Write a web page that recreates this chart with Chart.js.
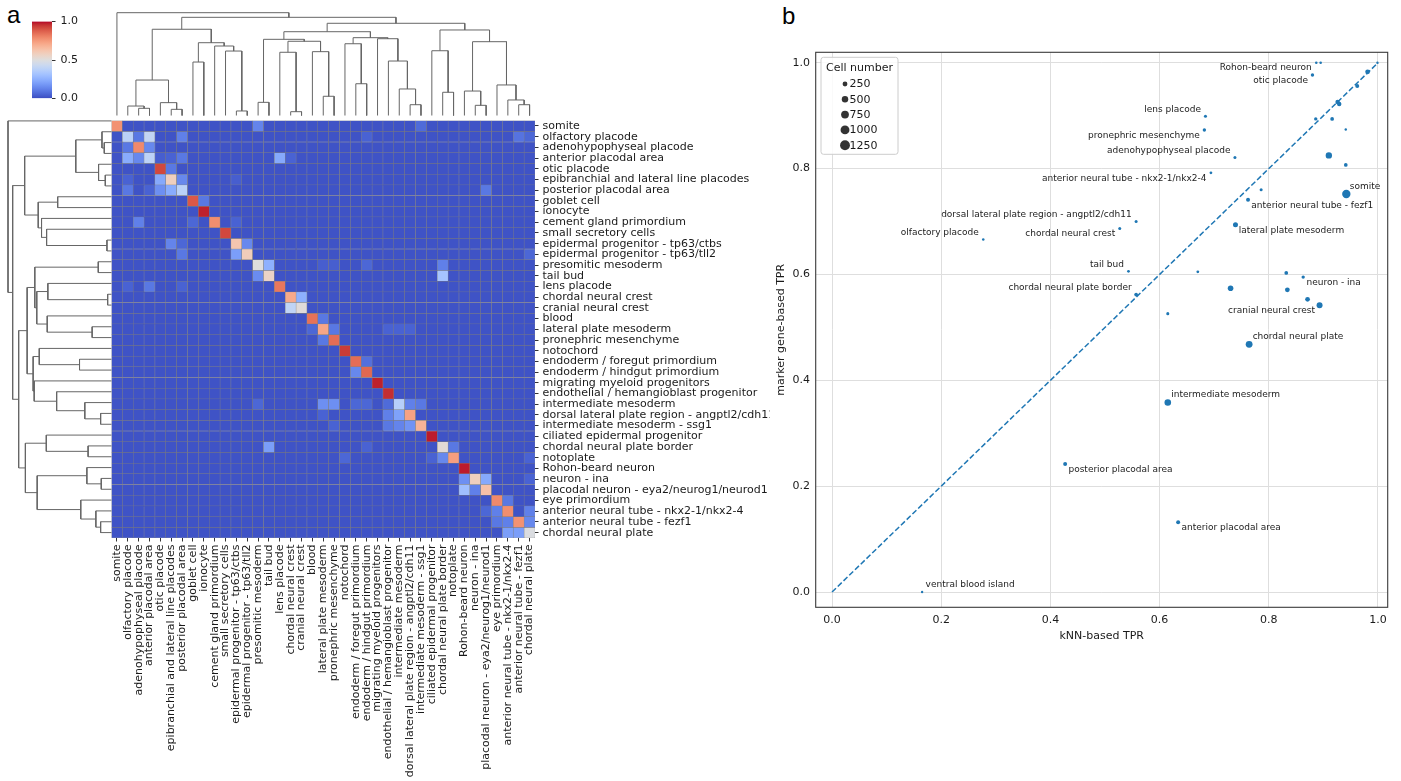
<!DOCTYPE html>
<html>
<head>
<meta charset="utf-8">
<script src="https://cdn.jsdelivr.net/npm/chart.js@4.4.0/dist/chart.umd.min.js"></script>
<style>
  body { margin: 0; background: #fff; width: 1401px; height: 781px; overflow: hidden; position: relative; }
  canvas { position: absolute; }
  .panel { position: absolute; font-family: "Liberation Sans", sans-serif; font-size: 24px; line-height: 24px; color: #000; }
</style>
</head>
<body>
<div class="panel" style="left:7px;top:3px">a</div>
<div class="panel" style="left:782px;top:4px">b</div>
<canvas id="colDendro" width="450" height="118" style="left:100px;top:0"></canvas>
<canvas id="rowDendro" width="120" height="440" style="left:0;top:105px"></canvas>
<canvas id="cbar" width="70" height="100" style="left:20px;top:10px"></canvas>
<canvas id="heat" width="670" height="671" style="left:100px;top:110px"></canvas>
<canvas id="scatter" width="631" height="620" style="left:770px;top:40px"></canvas>
<script>
// Panel a: clustered TPR heatmap between cell types. Panel b: kNN vs marker gene TPR.

// Cell types, same order on rows and columns (top to bottom, left to right).
const cellTypes = [
  "somite", "olfactory placode", "adenohypophyseal placode", "anterior placodal area",
  "otic placode", "epibranchial and lateral line placodes", "posterior placodal area",
  "goblet cell", "ionocyte", "cement gland primordium", "small secretory cells",
  "epidermal progenitor - tp63/ctbs", "epidermal progenitor - tp63/tll2",
  "presomitic mesoderm", "tail bud", "lens placode", "chordal neural crest",
  "cranial neural crest", "blood", "lateral plate mesoderm", "pronephric mesenchyme",
  "notochord", "endoderm / foregut primordium", "endoderm / hindgut primordium",
  "migrating myeloid progenitors", "endothelial / hemangioblast progenitor",
  "intermediate mesoderm", "dorsal lateral plate region - angptl2/cdh11",
  "intermediate mesoderm - ssg1", "ciliated epidermal progenitor",
  "chordal neural plate border", "notoplate", "Rohon-beard neuron", "neuron - ina",
  "placodal neuron - eya2/neurog1/neurod1", "eye primordium",
  "anterior neural tube - nkx2-1/nkx2-4", "anterior neural tube - fezf1", "chordal neural plate",
];

// Heatmap: most cells sit near zero; these are the visible ones [row, col, value].
const heatBase = 0.015;
const heatCells = [
  [0,0,0.77],[0,13,0.13],[0,28,0.07],
  [1,1,0.38],[1,2,0.1],[1,3,0.41],[1,6,0.12],[1,23,0.05],[1,37,0.09],[1,38,0.06],
  [2,1,0.1],[2,2,0.79],[2,3,0.14],
  [3,1,0.24],[3,2,0.14],[3,3,0.39],[3,4,0.04],[3,5,0.05],[3,6,0.1],[3,15,0.23],[3,16,0.05],
  [4,4,0.92],[4,5,0.1],
  [5,1,0.05],[5,4,0.23],[5,5,0.58],[5,6,0.14],[5,11,0.04],
  [6,1,0.1],[6,3,0.05],[6,4,0.16],[6,5,0.24],[6,6,0.38],[6,34,0.1],
  [7,7,0.89],[7,8,0.1],
  [8,8,0.975],
  [9,2,0.12],[9,7,0.06],[9,9,0.78],[9,11,0.05],
  [10,10,0.92],
  [11,5,0.13],[11,6,0.06],[11,11,0.62],[11,12,0.14],
  [12,6,0.1],[12,11,0.2],[12,12,0.59],[12,38,0.06],
  [13,13,0.5],[13,14,0.25],[13,19,0.04],[13,20,0.04],[13,23,0.06],[13,30,0.12],
  [14,13,0.15],[14,14,0.56],[14,30,0.32],
  [15,1,0.05],[15,3,0.1],[15,6,0.05],[15,15,0.83],
  [16,16,0.71],[16,17,0.25],
  [17,16,0.4],[17,17,0.51],
  [18,18,0.84],[18,19,0.1],
  [19,18,0.06],[19,19,0.72],[19,20,0.1],[19,25,0.05],[19,26,0.05],[19,27,0.05],
  [20,19,0.1],[20,20,0.85],
  [21,21,0.94],
  [22,22,0.85],[22,23,0.08],
  [23,22,0.14],[23,23,0.86],
  [24,24,0.975],
  [25,25,0.96],
  [26,13,0.06],[26,19,0.16],[26,20,0.16],[26,22,0.06],[26,23,0.06],[26,25,0.07],[26,26,0.37],[26,27,0.12],[26,28,0.1],
  [27,19,0.05],[27,25,0.12],[27,26,0.21],[27,27,0.73],
  [28,20,0.05],[28,25,0.1],[28,26,0.13],[28,27,0.17],[28,28,0.68],
  [29,29,0.98],
  [30,14,0.2],[30,23,0.05],[30,30,0.52],[30,31,0.1],
  [31,21,0.06],[31,29,0.05],[31,30,0.14],[31,31,0.74],[31,38,0.05],
  [32,32,0.98],
  [33,32,0.16],[33,33,0.58],[33,34,0.23],[33,38,0.05],
  [34,32,0.3],[34,33,0.12],[34,34,0.64],
  [35,35,0.79],[35,36,0.1],
  [36,34,0.06],[36,35,0.12],[36,36,0.78],[36,38,0.12],
  [37,35,0.1],[37,36,0.12],[37,37,0.77],[37,38,0.14],
  [38,36,0.2],[38,37,0.2],[38,38,0.49],
];

// Dendrograms as nested [height, left, right]; leaves are indices into cellTypes.
const colTree = [1.0, 0, [0.955,
  [0.839,
    [0.345, [0.092, 1, [0.07, 2, 3]], [0.125, 4, [0.06, 5, 6]]],
    [0.708, [0.52, 7, 8], [0.676, 9, [0.627, 10, [0.044, 11, 12]]]]],
  [0.897,
    [0.815,
      [0.741, [0.128, 13, 14], [0.722, [0.615, 15, [0.037, 16, 17]], [0.621, 18, [0.187, 19, 20]]]],
      [0.757, [0.698, 21, [0.309, 22, 23]], [0.747, 24, [0.53, 25, [0.258, 26, [0.105, 27, 28]]]]]],
    [0.832,
      [0.63, 29, [0.226, 30, 31]],
      [0.718, [0.238, 32, [0.099, 33, 34]], [0.297, 35, [0.151, 36, [0.105, 37, 38]]]]]]]];
const rowTree = colTree;

const colorbarTicks = [0, 0.5, 1];

// Panel b: one point per cell type.
const pointNames = [
  "Rohon-beard neuron", "", "otic placode", "", "", "", "", "", "", "", "", "", "",
  "lens placode", "pronephric mesenchyme", "adenohypophyseal placode",
  "anterior neural tube - nkx2-1/nkx2-4", "", "somite", "anterior neural tube - fezf1",
  "dorsal lateral plate region - angptl2/cdh11", "chordal neural crest", "lateral plate mesoderm",
  "olfactory placode", "tail bud",
  "", "", "neuron - ina", "", "", "", "cranial neural crest",
  "chordal neural plate border", "", "chordal neural plate", "intermediate mesoderm",
  "posterior placodal area", "anterior placodal area", "ventral blood island",
];
const knnTpr = [
  0.887, 0.895, 0.880, 0.999, 0.981, 0.962, 0.926, 0.929, 0.886, 0.916, 0.941, 0.910, 0.941,
  0.684, 0.682, 0.738, 0.694, 0.786, 0.942, 0.762, 0.557, 0.527, 0.739, 0.277, 0.543,
  0.670, 0.832, 0.863, 0.730, 0.834, 0.871, 0.893, 0.557, 0.615, 0.764, 0.615, 0.427, 0.634, 0.165,
];
const markerTpr = [
  1.0, 1.0, 0.977, 1.0, 0.983, 0.956, 0.926, 0.922, 0.894, 0.894, 0.874, 0.825, 0.807,
  0.899, 0.873, 0.821, 0.792, 0.760, 0.752, 0.741, 0.700, 0.687, 0.694, 0.666, 0.606,
  0.605, 0.603, 0.595, 0.574, 0.571, 0.553, 0.542, 0.562, 0.526, 0.468, 0.358, 0.242, 0.132, 0.0,
];
const cellCounts = [
  25, 25, 90, 10, 240, 150, 200, 200, 90, 120, 15, 480, 120,
  60, 90, 60, 40, 60, 880, 150, 60, 60, 275, 20, 40,
  40, 120, 90, 360, 240, 240, 420, 120, 60, 560, 520, 150, 150, 10,
];
const legendCounts = [250, 500, 750, 1000, 1250];
const axisTicks = [0, 0.2, 0.4, 0.6, 0.8, 1.0];

// Where each label sits relative to its point (layout only).
const labelSpots = {
  "Rohon-beard neuron": "bl", "otic placode": "bl", "lens placode": "al",
  "pronephric mesenchyme": "bl", "adenohypophyseal placode": "al",
  "anterior neural tube - nkx2-1/nkx2-4": "bl", "somite": "ar",
  "anterior neural tube - fezf1": "br", "dorsal lateral plate region - angptl2/cdh11": "al",
  "chordal neural crest": "bl", "lateral plate mesoderm": "br", "olfactory placode": "al",
  "tail bud": "al", "neuron - ina": "br", "cranial neural crest": "bl",
  "chordal neural plate border": "al", "chordal neural plate": "ar",
  "intermediate mesoderm": "ar", "posterior placodal area": "br",
  "anterior placodal area": "br", "ventral blood island": "ar",
};
const SPOT = {
  bl: { align: "right", dx: -4.5, dy: 5.3 },
  al: { align: "right", dx: -4.5, dy: -7 },
  br: { align: "left", dx: 3.3, dy: 5.5 },
  ar: { align: "left", dx: 3.5, dy: -7.5 },
};

// matplotlib coolwarm, 33 steps.
const COOLWARM = [
  [59,76,192],[68,90,204],[77,104,215],[87,117,225],[98,130,234],[108,142,241],[119,154,247],
  [130,165,251],[141,176,254],[152,185,255],[163,194,255],[174,201,253],[184,208,249],
  [194,213,244],[204,217,238],[213,219,230],[221,221,221],[229,216,209],[236,211,197],
  [241,204,185],[245,196,173],[247,187,160],[247,177,148],[247,166,135],[244,154,123],
  [241,141,111],[236,127,99],[229,112,88],[222,96,77],[213,80,66],[203,62,56],[192,40,47],[180,4,38],
];
function coolwarm(v) {
  const t = Math.min(1, Math.max(0, v)) * 32;
  const i = Math.min(31, Math.floor(t));
  const f = t - i;
  const a = COOLWARM[i], b = COOLWARM[i + 1];
  const c = a.map((x, k) => Math.round(x + (b[k] - x) * f));
  return `rgb(${c[0]},${c[1]},${c[2]})`;
}

const FONT = "DejaVu Sans";
const TEXT = "#1a1a1a";
const BLUE = "#1f77b4";
const DENDRO = "#666666";

// ---------- heatmap ----------
const heatLookup = {};
heatCells.forEach(([r, c, v]) => { heatLookup[r + "," + c] = v; });
const heatValue = (r, c) => heatLookup[r + "," + c] ?? heatBase;

new Chart(document.getElementById("heat"), {
  type: "bar",
  data: {
    labels: cellTypes,
    datasets: cellTypes.map((name, r) => ({
      label: name,
      data: cellTypes.map(() => 1),
      backgroundColor: cellTypes.map((_, c) => coolwarm(heatValue(r, c))),
      borderColor: "rgba(120,120,120,0.9)",
      borderWidth: 0.5,
      borderSkipped: false,
      barPercentage: 1,
      categoryPercentage: 1,
    })),
  },
  options: {
    responsive: false,
    animation: false,
    layout: { padding: { left: 11.5, top: 5.5 } },
    plugins: { legend: { display: false }, tooltip: { enabled: false } },
    scales: {
      x: {
        stacked: true,
        ticks: { autoSkip: false, maxRotation: 90, minRotation: 90, padding: 3, color: TEXT, font: { family: FONT, size: 11 } },
        grid: { drawOnChartArea: false, offset: false, tickLength: 3.5, color: "#333" },
        border: { display: false },
        afterFit: (s) => { s.height = 243; },
      },
      y: { stacked: true, display: false, min: 0, max: 39, reverse: true },
      rows: {
        type: "category",
        labels: cellTypes,
        position: "right",
        offset: true,
        ticks: { autoSkip: false, padding: 4, color: TEXT, font: { family: FONT, size: 11 } },
        grid: { drawOnChartArea: false, offset: false, tickLength: 3.5, color: "#333" },
        border: { display: false },
        afterFit: (s) => { s.width = 235; },
      },
    },
  },
});

// ---------- dendrograms ----------
function treeLinks(node, links) {
  if (typeof node === "number") return { pos: node + 0.5, h: 0 };
  const [h, a, b] = node;
  const L = treeLinks(a, links);
  const R = treeLinks(b, links);
  links.push([L.pos, L.h, R.pos, R.h, h]);
  return { pos: (L.pos + R.pos) / 2, h };
}

function dendroChart(id, tree, vertical, padding) {
  const links = [];
  treeLinks(tree, links);
  const datasets = links.map(([xl, hl, xr, hr, h]) => {
    const pts = [[xl, hl], [xl, h], [xr, h], [xr, hr]];
    return {
      data: pts.map(([p, q]) => (vertical ? { x: p, y: q } : { x: q, y: p })),
      showLine: true,
      borderColor: DENDRO,
      borderWidth: 1,
      pointRadius: 0,
      clip: false,
    };
  });
  const leafAxis = { type: "linear", display: false, min: 0, max: cellTypes.length };
  const hAxis = { type: "linear", display: false, min: 0, max: 1 };
  new Chart(document.getElementById(id), {
    type: "scatter",
    data: { datasets },
    options: {
      responsive: false,
      animation: false,
      layout: { padding },
      plugins: { legend: { display: false }, tooltip: { enabled: false } },
      scales: vertical
        ? { x: leafAxis, y: hAxis }
        : { x: { ...hAxis, reverse: true }, y: { ...leafAxis, reverse: true } },
    },
  });
}

dendroChart("colDendro", colTree, true, { left: 11.5, top: 12.7, right: 15, bottom: 2.5 });
dendroChart("rowDendro", rowTree, false, { left: 8, top: 10.5, right: 8.5, bottom: 7 });

// ---------- colour bar ----------
new Chart(document.getElementById("cbar"), {
  type: "bar",
  data: {
    labels: [""],
    datasets: [{
      data: [[0, 1]],
      barPercentage: 1,
      categoryPercentage: 1,
      borderWidth: 0,
      backgroundColor: (ctx) => {
        const area = ctx.chart.chartArea;
        if (!area) return COOLWARM[0];
        const g = ctx.chart.ctx.createLinearGradient(0, area.bottom, 0, area.top);
        COOLWARM.forEach((c, i) => g.addColorStop(i / 32, `rgb(${c[0]},${c[1]},${c[2]})`));
        return g;
      },
    }],
  },
  options: {
    responsive: false,
    animation: false,
    layout: { padding: { left: 12, top: 9.3, bottom: 11 } },
    plugins: { legend: { display: false }, tooltip: { enabled: false } },
    scales: {
      x: { display: false },
      y: {
        position: "right",
        min: 0,
        max: 1,
        afterBuildTicks: (s) => { s.ticks = colorbarTicks.map((v) => ({ value: v })); },
        ticks: { callback: (v) => v.toFixed(1), padding: 5, color: TEXT, font: { family: FONT, size: 11 } },
        grid: { drawOnChartArea: false, tickLength: 3.5, color: "#333" },
        border: { display: false },
        afterFit: (s) => { s.width = 38; },
      },
    },
  },
});

// ---------- scatter ----------
const sizeOf = (n) => Math.sqrt(1.2 + 0.0185 * n);

const framePlugin = {
  id: "frame",
  afterDatasetsDraw(chart) {
    const { ctx, chartArea: a } = chart;
    ctx.save();
    ctx.strokeStyle = "#3a3a3a";
    ctx.lineWidth = 1.1;
    ctx.strokeRect(a.left, a.top, a.right - a.left, a.bottom - a.top);
    ctx.restore();
  },
};

const pointLabelPlugin = {
  id: "pointLabels",
  afterDatasetsDraw(chart) {
    const { ctx, scales } = chart;
    ctx.save();
    ctx.font = `9px "${FONT}"`;
    ctx.fillStyle = "#222";
    ctx.textBaseline = "middle";
    pointNames.forEach((name, i) => {
      if (!name) return;
      const spot = SPOT[labelSpots[name]];
      const px = scales.x.getPixelForValue(knnTpr[i]);
      const py = scales.y.getPixelForValue(markerTpr[i]);
      ctx.textAlign = spot.align;
      ctx.fillText(name, px + spot.dx, py + spot.dy);
    });
    ctx.restore();
  },
};

const sizeLegendPlugin = {
  id: "sizeLegend",
  afterDatasetsDraw(chart) {
    const { ctx, chartArea: a } = chart;
    const x0 = a.left + 5.3, y0 = a.top + 5;
    ctx.save();
    ctx.fillStyle = "rgba(255,255,255,0.85)";
    ctx.strokeStyle = "#cccccc";
    ctx.lineWidth = 1;
    ctx.beginPath();
    ctx.roundRect(x0, y0, 77, 97, 2.5);
    ctx.fill();
    ctx.stroke();
    ctx.fillStyle = TEXT;
    ctx.font = `11px "${FONT}"`;
    ctx.textAlign = "center";
    ctx.textBaseline = "middle";
    ctx.fillText("Cell number", x0 + 38.5, y0 + 10.5);
    legendCounts.forEach((n, i) => {
      const cy = y0 + 26.7 + i * 15.3;
      ctx.fillStyle = "#333";
      ctx.beginPath();
      ctx.arc(x0 + 24, cy, sizeOf(n), 0, Math.PI * 2);
      ctx.fill();
      ctx.fillStyle = TEXT;
      ctx.textAlign = "left";
      ctx.fillText(String(n), x0 + 28.5, cy + 0.5);
    });
    ctx.restore();
  },
};

const tickFont = { family: FONT, size: 11 };
new Chart(document.getElementById("scatter"), {
  type: "scatter",
  data: {
    datasets: [
      {
        type: "line",
        data: [{ x: 0, y: 0 }, { x: 1, y: 1 }],
        borderColor: BLUE,
        borderWidth: 1.5,
        borderDash: [5.5, 2.5],
        pointRadius: 0,
        order: 2,
      },
      {
        data: knnTpr.map((x, i) => ({ x, y: markerTpr[i] })),
        backgroundColor: BLUE,
        borderWidth: 0,
        pointRadius: (ctx) => sizeOf(cellCounts[ctx.dataIndex]),
        order: 1,
      },
    ],
  },
  options: {
    responsive: false,
    animation: false,
    layout: { padding: { top: 11, right: 13.3 } },
    plugins: { legend: { display: false }, tooltip: { enabled: false } },
    scales: {
      x: {
        type: "linear",
        min: -0.0299,
        max: 1.0178,
        afterBuildTicks: (s) => { s.ticks = axisTicks.map((v) => ({ value: v })); },
        ticks: { callback: (v) => v.toFixed(1), padding: 6, color: TEXT, font: tickFont },
        grid: { color: "#dedede", lineWidth: 1, drawTicks: false },
        border: { display: false },
        title: { display: true, text: "kNN-based TPR", color: TEXT, font: tickFont, padding: { top: 0, bottom: 17.4 } },
        afterFit: (s) => { s.height = 52.7; },
      },
      y: {
        type: "linear",
        min: -0.0289,
        max: 1.0198,
        afterBuildTicks: (s) => { s.ticks = axisTicks.map((v) => ({ value: v })); },
        ticks: { callback: (v) => v.toFixed(1), padding: 5.7, color: TEXT, font: tickFont },
        grid: { color: "#dedede", lineWidth: 1, drawTicks: false },
        border: { display: false },
        title: { display: true, text: "marker gene-based TPR", color: TEXT, font: tickFont, padding: { top: 4.4, bottom: 0 } },
        afterFit: (s) => { s.width = 45.7; },
      },
    },
  },
  plugins: [framePlugin, pointLabelPlugin, sizeLegendPlugin],
});
</script>
</body>
</html>
